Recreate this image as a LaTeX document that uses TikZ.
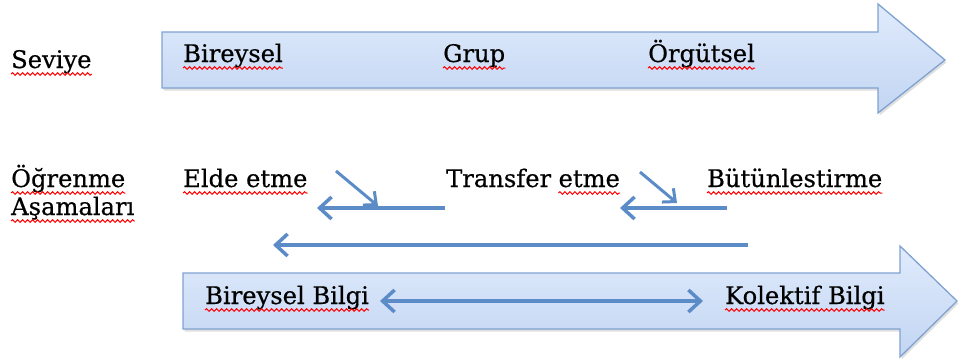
\documentclass[tikz,border=0pt]{standalone}
\usepackage{fontspec}
\setmainfont[FakeBold=0.5]{DejaVu Serif}
\usetikzlibrary{arrows.meta,shadows,decorations.pathmorphing}
\definecolor{fillTop}{HTML}{E0EBFC}
\definecolor{fillBot}{HTML}{C2D5F2}
\definecolor{edgeblue}{HTML}{7FA2D0}
\definecolor{lineblue}{HTML}{5B8CC8}
\tikzset{
  bigarrow/.style={draw=edgeblue, line width=1.3pt, line join=miter, top color=fillTop, bottom color=fillBot,
    drop shadow={shadow xshift=1.5pt, shadow yshift=-2.5pt, opacity=0.25}},
  lbl/.style={anchor=base west, inner sep=0pt, font=\fontsize{24.2}{29}\selectfont},
  conn/.style={draw=lineblue, line width=3.5pt, -{Straight Barb[length=12pt,width=22pt]}},
  diag/.style={draw=lineblue, line width=3pt, -{Straight Barb[length=10pt,width=18pt]}},
  dconn/.style={draw=lineblue, line width=3.5pt, {Straight Barb[length=12pt,width=22pt]}-{Straight Barb[length=12pt,width=22pt]}},
  squig/.style={draw=red, line width=1pt, decorate, decoration={snake, amplitude=1.3pt, segment length=5pt}}
}
\newcommand{\wavy}[1]{\draw[squig] ([yshift=-6pt]#1.base west) -- ([yshift=-6pt]#1.base east);}
\begin{document}
\begin{tikzpicture}[x=1pt,y=-1pt]
\useasboundingbox (0,0) rectangle (959,362);
% block arrows
\path[bigarrow] (162,32) -- (878,32) -- (878,4) -- (945,60) -- (878,113) -- (878,88) -- (162,88) -- cycle;
\path[bigarrow] (183,273) -- (900,273) -- (900,246) -- (957,301) -- (900,357) -- (900,329) -- (183,329) -- cycle;
% labels
\node[lbl] (sev) at (11,68) {Seviye};
\node[lbl] (bir) at (183,62) {Bireysel};
\node[lbl] (grp) at (443,62) {Grup};
\node[lbl] (org) at (648,62) {Örgütsel};
\node[lbl] (ogr) at (11,187) {Öğrenme};
\node[lbl] (asa) at (11,215) {Aşamaları};
\node[lbl] (eld) at (183,187) {Elde etme};
\node[lbl] (trf) at (446,187) {Transfer};
\node[lbl, anchor=base west] (tet) at ([xshift=7pt]trf.base east) {etme};
\node[lbl] (but) at (707,187) {Bütünlestirme};
\node[lbl] (bbi) at (205,304) {Bireysel Bilgi};
\node[lbl] (kbi) at (725,304) {Kolektif Bilgi};
\foreach \w in {sev,bir,grp,org,ogr,asa,eld,tet,but,bbi,kbi} {\wavy{\w}}
% connectors
\coordinate (s1a) at (445,208); \coordinate (s1b) at (317,208);
\coordinate (d1a) at (336,171); \coordinate (d1b) at (378,206);
\coordinate (s2a) at (727,208); \coordinate (s2b) at (620,208);
\coordinate (d2a) at (640,172); \coordinate (d2b) at (677,203);
\coordinate (la) at (748,245); \coordinate (lb) at (273,245);
\coordinate (ba) at (380,301); \coordinate (bb) at (703,301);
\draw[conn] (s1a) -- (s1b);
\draw[diag] (d1a) -- (d1b);
\draw[conn] (s2a) -- (s2b);
\draw[diag] (d2a) -- (d2b);
\draw[conn] (la) -- (lb);
\draw[dconn] (ba) -- (bb);
\end{tikzpicture}
\end{document}
